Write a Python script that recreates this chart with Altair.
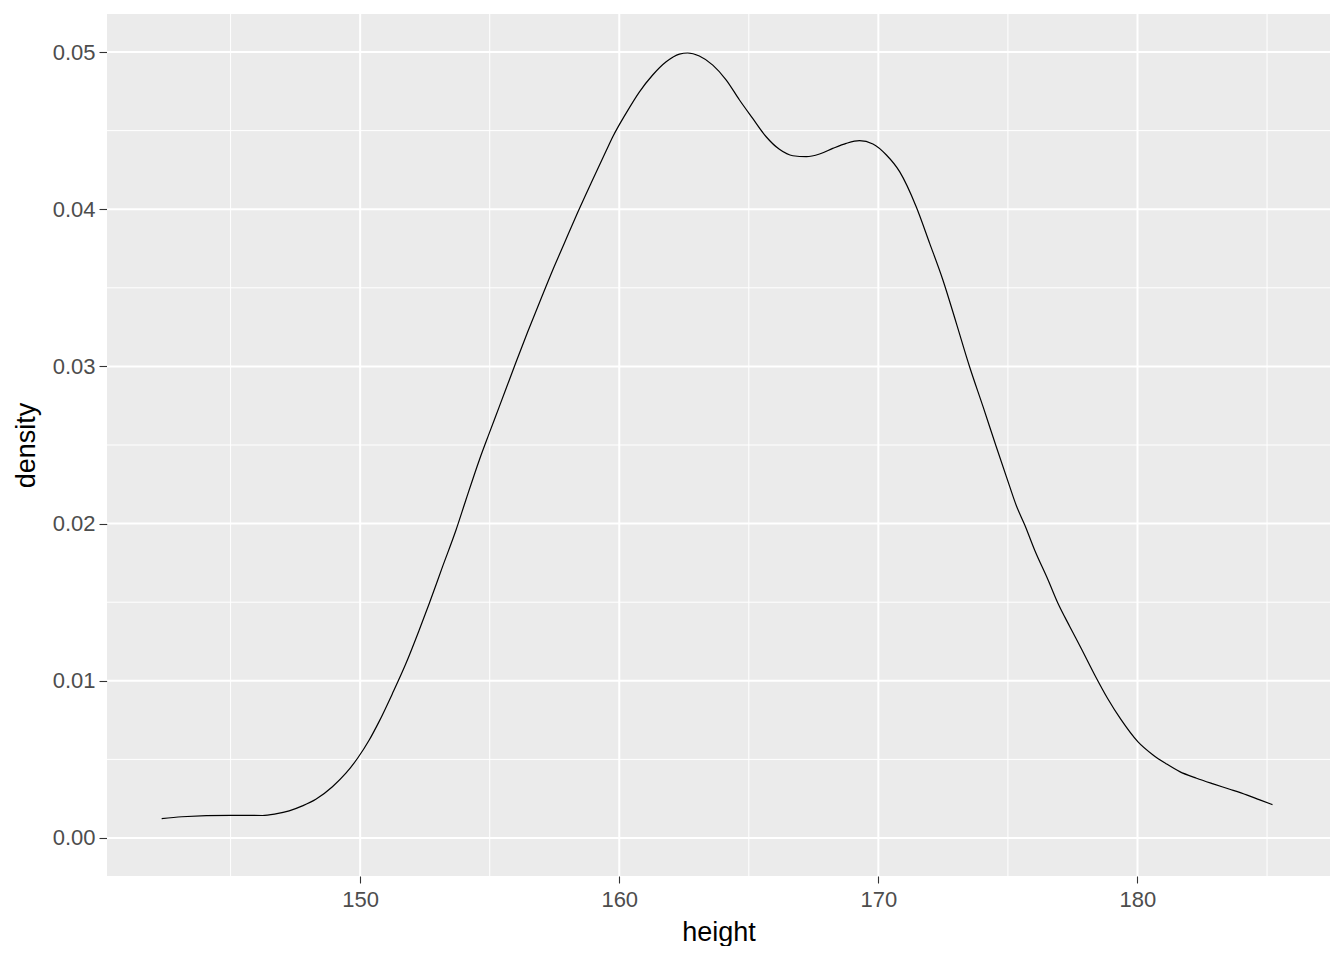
import altair as alt
import pandas as pd

# Density curve
height = [142.34, 143.12, 145.01, 146.23, 146.74, 147.26, 147.77, 148.29, 148.93, 149.45,
          149.90, 150.35, 150.73, 151.25, 151.77, 152.28, 152.67, 153.18, 153.70, 154.08,
          154.60, 154.98, 155.37, 156.01, 156.46, 156.98, 157.49, 157.88, 158.39, 158.91,
          159.49, 159.75, 160.26, 160.78, 161.29, 161.81, 162.32, 162.64, 163.09, 163.61,
          164.13, 164.64, 165.15, 165.67, 166.18, 166.70, 167.22, 167.73, 168.24, 168.76,
          169.27, 169.79, 170.31, 170.82, 171.46, 171.98, 172.49, 173.01, 173.52, 174.04,
          174.55, 175.07, 175.33, 175.65, 176.03, 176.55, 176.93, 177.39, 177.84, 178.35,
          178.86, 179.36, 180.02, 180.60, 181.12, 181.63, 182.28, 182.92, 183.56, 184.21,
          184.72, 185.21]
density = [0.00123, 0.00135, 0.00144, 0.00143, 0.00153, 0.00172, 0.00204, 0.00246, 0.00326, 0.00412,
           0.00507, 0.00623, 0.00740, 0.00920, 0.01111, 0.01323, 0.01493, 0.01726, 0.01959, 0.02150,
           0.02405, 0.02574, 0.02744, 0.03025, 0.03217, 0.03430, 0.03635, 0.03784, 0.03977, 0.04165,
           0.04370, 0.04461, 0.04610, 0.04747, 0.04854, 0.04938, 0.04987, 0.04994, 0.04975, 0.04917,
           0.04822, 0.04695, 0.04578, 0.04461, 0.04381, 0.04340, 0.04334, 0.04351, 0.04387, 0.04419,
           0.04436, 0.04415, 0.04345, 0.04239, 0.04016, 0.03783, 0.03550, 0.03274, 0.02998, 0.02744,
           0.02489, 0.02235, 0.02112, 0.01991, 0.01832, 0.01641, 0.01493, 0.01344, 0.01202, 0.01037,
           0.00884, 0.00754, 0.00611, 0.00528, 0.00471, 0.00422, 0.00380, 0.00344, 0.00310, 0.00274,
           0.00242, 0.00212]

x_major = [150, 160, 170, 180]
x_minor = [145, 155, 165, 175, 185]
y_major = [0.00, 0.01, 0.02, 0.03, 0.04, 0.05]
y_minor = [0.005, 0.015, 0.025, 0.035, 0.045]

df = pd.DataFrame({"height": height, "density": density})

xs = alt.Scale(domain=[140.23, 187.43], nice=False, zero=False)
ys = alt.Scale(domain=[-0.00242, 0.05242], nice=False, zero=False)

FONT = "Liberation Sans"

xaxis = alt.Axis(values=x_major, format="d", titlePadding=9, tickSize=7, labelPadding=6)
yaxis = alt.Axis(values=y_major, format=".2f", titlePadding=12, tickSize=8, labelPadding=4)


def xenc():
    return alt.X("height:Q", scale=xs, title="height", axis=xaxis)


def yenc():
    return alt.Y("density:Q", scale=ys, title="density", axis=yaxis)


vminor = alt.Chart(pd.DataFrame({"height": x_minor})).mark_rule(color="white", strokeWidth=1).encode(x=xenc())
hminor = alt.Chart(pd.DataFrame({"density": y_minor})).mark_rule(color="white", strokeWidth=1).encode(y=yenc())
vmajor = alt.Chart(pd.DataFrame({"height": x_major})).mark_rule(color="white", strokeWidth=2).encode(x=xenc())
hmajor = alt.Chart(pd.DataFrame({"density": y_major})).mark_rule(color="white", strokeWidth=2).encode(y=yenc())

line = alt.Chart(df).mark_line(color="black", strokeWidth=1.2, interpolate="monotone").encode(
    x=xenc(), y=yenc()
)

chart = alt.layer(vminor, hminor, vmajor, hmajor, line).properties(
    width=1223, height=862,
    autosize=alt.AutoSizeParams(type="none"),
    padding={"left": 99, "top": 6, "right": 6, "bottom": 70},
    background="white",
).configure_view(
    fill="#EBEBEB", stroke=None
).configure_axis(
    domain=False, grid=False,
    tickColor="#333333", tickWidth=1.1,
    labelFont=FONT, labelFontSize=22, labelColor="#4D4D4D",
    titleFont=FONT, titleFontSize=27, titleFontWeight="normal", titleColor="black",
)

chart.save("out.html", embed_options={"renderer": "svg", "actions": False})
